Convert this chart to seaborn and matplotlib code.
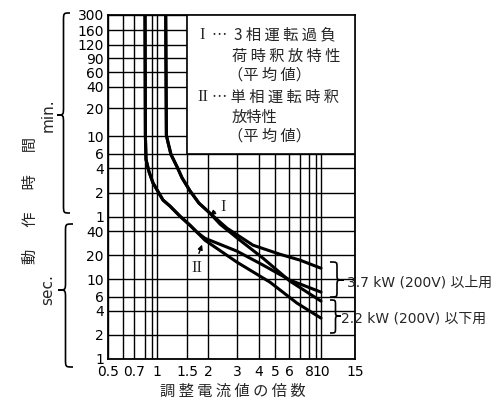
import numpy as np
import pandas as pd
import matplotlib
matplotlib.use('Agg')
import matplotlib.pyplot as plt
import seaborn as sns
from matplotlib.path import Path
from matplotlib.patches import PathPatch, Rectangle

sns.set_style('white')
plt.rcParams['font.family'] = ['DejaVu Sans', 'Noto Sans CJK JP']
JP = ['Noto Sans CJK JP', 'DejaVu Sans']
SERIF = ['Liberation Serif', 'DejaVu Serif']

# multiple of current setting vs. operating time (seconds)
i37_mult = [1.125, 1.135, 1.160, 1.208, 1.310, 1.402, 1.563, 1.767, 2.056, 2.61, 3.70, 5.33, 7.0, 10.0]
i37_time = [18000, 613, 501, 355, 251, 183, 126, 89, 66.8, 43.4, 26.6, 20.5, 17.3, 13.7]
i22_mult = [1.125, 1.135, 1.160, 1.208, 1.310, 1.402, 1.563, 1.767, 2.056, 2.37, 3.12, 4.23, 6.08, 10.0]
i22_time = [18000, 613, 501, 355, 251, 183, 126, 89, 66.8, 48.7, 30.7, 18.3, 9.44, 5.31]
ii37_mult = [0.80, 0.805, 0.814, 0.856, 0.919, 1.084, 1.192, 1.365, 1.563, 1.72, 1.918, 3.0, 4.23, 6.08, 10.0]
ii37_time = [18000, 613, 307, 217, 158, 97.2, 81.8, 61.3, 47.3, 38.7, 32.5, 22.4, 15.0, 9.72, 6.88]
ii22_mult = [0.80, 0.805, 0.814, 0.856, 0.919, 1.084, 1.192, 1.365, 1.563, 1.72, 1.918, 3.0, 4.66, 6.71, 10.0]
ii22_time = [18000, 613, 307, 217, 158, 97.2, 81.8, 61.3, 47.3, 38.7, 30.7, 16.3, 9.17, 5.01, 3.25]

x_major = [0.5, 0.7, 1, 1.5, 2, 3, 4, 5, 6, 8, 10, 15]
x_labels = ['0.5', '0.7', '1', '1.5', '2', '3', '4', '5', '6', '8', '10', '15']
x_minor = [0.6, 0.8, 0.9, 7, 9]
y_ticks = [1, 2, 4, 6, 10, 20, 40, 60, 120, 240, 360, 600, 1200, 2400, 3600, 5400, 7200, 9600, 18000]
y_labels = ['1', '2', '4', '6', '10', '20', '40',
            '1', '2', '4', '6', '10', '20', '40', '60', '90', '120', '160', '300']

W, H = 502, 403

# the printed grid is only roughly logarithmic, so pin it to where its lines are drawn
xa_log = np.log10([0.5, 0.6, 0.7, 0.8, 0.9, 1, 1.5, 2, 3, 4, 5, 6, 7, 8, 9, 10, 15])
xa_pos = np.array([108, 123, 134, 145, 152, 157, 187, 208, 237, 259, 275, 289, 300, 309, 316, 321, 355])
ya_log = np.log10([1, 60, 600, 1200, 2400, 3600, 5400, 7200, 9600, 18000])
ya_pos = -np.array([359, 217, 136, 108, 87, 72, 58, 45, 30, 15])

def xfwd(v):
    return np.interp(np.log10(np.clip(v, 1e-6, None)), xa_log, xa_pos)

def xinv(p):
    return 10 ** np.interp(p, xa_pos, xa_log)

def yfwd(v):
    return np.interp(np.log10(np.clip(v, 1e-6, None)), ya_log, ya_pos)

def yinv(p):
    return 10 ** np.interp(p, ya_pos, ya_log)

def fp(x, y):
    return (x / W, 1 - y / H)

def brace(fig, x_end, x_tip, y0, y1, y_tip, r):
    xm = (x_end + x_tip) / 2
    pts = [(x_end, y0), (xm, y0), (xm, y0), (xm, y0 + r), (xm, y_tip - r),
           (xm, y_tip), (xm, y_tip), (x_tip, y_tip),
           (xm, y_tip), (xm, y_tip), (xm, y_tip + r), (xm, y1 - r),
           (xm, y1), (xm, y1), (x_end, y1)]
    codes = [Path.MOVETO] + [Path.CURVE4] * 3 + [Path.LINETO] + [Path.CURVE4] * 6 + [Path.LINETO] + [Path.CURVE4] * 3
    path = Path([fp(*p) for p in pts], codes)
    fig.add_artist(PathPatch(path, transform=fig.transFigure, fill=False, lw=1.2, color='black'))

fig = plt.figure(figsize=(W / 100, H / 100), dpi=100)
ax = fig.add_axes([108 / W, 1 - 359 / H, (355 - 108) / W, (359 - 15) / H])
ax.set_xscale('function', functions=(xfwd, xinv))
ax.set_yscale('function', functions=(yfwd, yinv))

for mult, t in [(i37_mult, i37_time), (i22_mult, i22_time), (ii37_mult, ii37_time), (ii22_mult, ii22_time)]:
    sns.lineplot(x=mult, y=t, ax=ax, color='black', linewidth=2.2, sort=False, estimator=None, zorder=4)

ax.set_xlim(0.5, 15)
ax.set_ylim(1, 18000)
ax.set_xticks(x_major)
ax.set_xticklabels(x_labels)
ax.set_xticks(x_minor, minor=True)
ax.set_yticks(y_ticks)
ax.set_yticklabels(y_labels)
ax.tick_params(which='both', length=0, labelsize=10, colors='black')
ax.tick_params(axis='x', pad=4)
ax.tick_params(axis='y', pad=3)
ax.grid(True, which='both', color='black', linewidth=1.0)
for s in ax.spines.values():
    s.set_color('black')
    s.set_linewidth(1.3)
ax.set_xlabel('')
ax.set_ylabel('')

# note box in the upper right
ax.add_patch(Rectangle((1.5, 360), 13.5, 17640, facecolor='white', edgecolor='black', lw=1.2, zorder=3))
fig.text(*fp(199, 35), 'I', fontfamily=SERIF, fontsize=12, va='center', ha='left')
fig.text(*fp(212, 35), '⋯  3 相 運 転 過 負', fontfamily=JP, fontsize=11, va='center', ha='left')
fig.text(*fp(232, 56), '荷 時 釈 放 特 性', fontfamily=JP, fontsize=11, va='center', ha='left')
fig.text(*fp(228, 75), '（平 均 値）', fontfamily=JP, fontsize=11, va='center', ha='left')
fig.text(*fp(197, 97), 'II', fontfamily=SERIF, fontsize=12, va='center', ha='left')
fig.text(*fp(212, 97), '⋯ 単 相 運 転 時 釈', fontfamily=JP, fontsize=11, va='center', ha='left')
fig.text(*fp(232, 117), '放特性', fontfamily=JP, fontsize=11, va='center', ha='left')
fig.text(*fp(228, 136), '（平 均 値）', fontfamily=JP, fontsize=11, va='center', ha='left')

# curve labels
ax.annotate('', xy=fp(208, 217), xytext=fp(217, 210), xycoords='figure fraction',
            arrowprops=dict(arrowstyle='-|>', color='black', lw=1, mutation_scale=7))
fig.text(*fp(223, 207), 'I', fontfamily=SERIF, fontsize=12, va='center', ha='center')
ax.annotate('', xy=fp(203, 242), xytext=fp(198, 256), xycoords='figure fraction',
            arrowprops=dict(arrowstyle='-|>', color='black', lw=1, mutation_scale=7))
fig.text(*fp(197, 268), 'II', fontfamily=SERIF, fontsize=12, va='center', ha='center')

# rating braces on the right
brace(fig, 330, 344, 262, 297, 280, 5)
brace(fig, 330, 341, 300, 333, 316, 5)
fig.text(*fp(347, 283), '3.7 kW (200V) 以上用', fontsize=10, va='center', ha='left')
fig.text(*fp(341, 318), '2.2 kW (200V) 以下用', fontsize=10, va='center', ha='left')

# unit braces on the left
brace(fig, 70, 57, 13, 213, 115, 8)
brace(fig, 73, 58, 224, 367, 290, 8)
fig.text(*fp(48, 115), 'min.', fontsize=11, rotation=90, va='center', ha='center')
fig.text(*fp(48, 290), 'sec.', fontsize=11, rotation=90, va='center', ha='center')

fig.text(*fp(30, 200), '動\u3000  作\u3000  時\u3000  間', fontfamily=JP, fontsize=11,
         rotation=90, va='center', ha='center')
fig.text(*fp(233, 391), '調 整 電 流 値 の 倍 数', fontfamily=JP, fontsize=11, va='center', ha='center')

fig.savefig('out.png', dpi=100, facecolor='white')
